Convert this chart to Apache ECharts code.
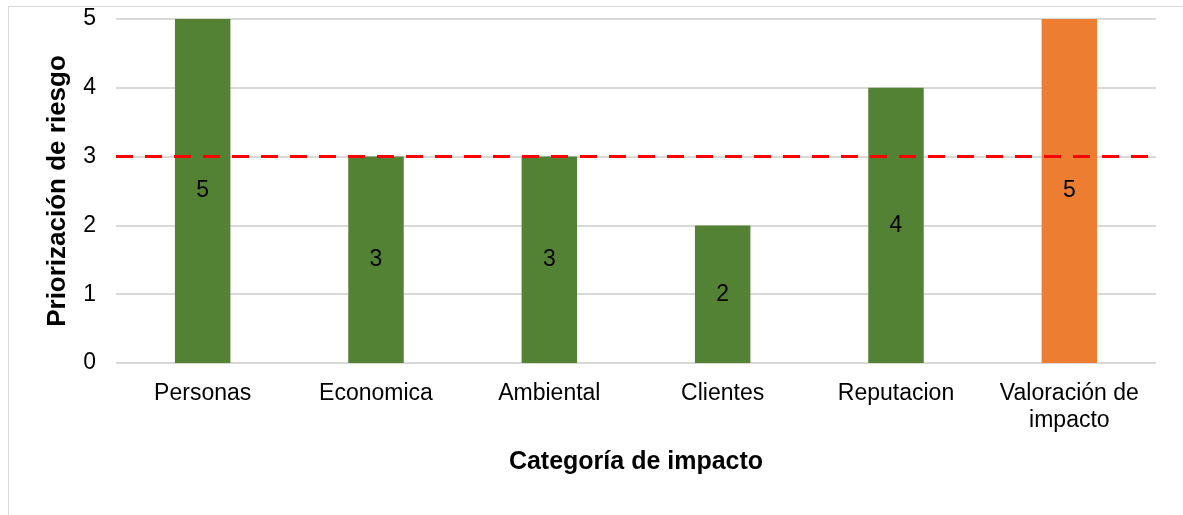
<!DOCTYPE html>
<html><head><meta charset="utf-8">
<script src="https://cdn.jsdelivr.net/npm/echarts@6/dist/echarts.min.js"></script>
<style>html,body{margin:0;padding:0;background:#fff}#c{width:1183px;height:515px}</style>
</head><body><div id="c"></div>
<script>
const categories = ['Personas', 'Economica', 'Ambiental', 'Clientes', 'Reputacion', 'Valoración de\nimpacto'];
const values = [5, 3, 3, 2, 4, 5];
const barColors = ['#548235', '#548235', '#548235', '#548235', '#548235', '#ED7D31'];
const threshold = 3;
const yTicks = [0, 1, 2, 3, 4, 5];

const chart = echarts.init(document.getElementById('c'));
const font = 'Liberation Sans, Arial, sans-serif';
chart.setOption({
  animation: false,
  graphic: [
    { type: 'line', shape: { x1: 8.5, y1: 6, x2: 8.5, y2: 515 }, style: { stroke: '#d9d9d9', lineWidth: 1 } },
    { type: 'line', shape: { x1: 8, y1: 6.5, x2: 1183, y2: 6.5 }, style: { stroke: '#d9d9d9', lineWidth: 1 } }
  ],
  grid: { left: 116, right: 27, top: 19, bottom: 152, containLabel: false },
  xAxis: {
    type: 'category', data: categories,
    axisLine: { show: true, lineStyle: { color: '#d9d9d9', width: 1 } },
    axisTick: { show: false },
    axisLabel: { color: '#000', fontFamily: font, fontSize: 23, margin: 17, lineHeight: 27, interval: 0 },
    name: 'Categoría de impacto', nameLocation: 'middle', nameGap: 87,
    nameTextStyle: { color: '#000', fontFamily: font, fontSize: 25, fontWeight: 'bold' }
  },
  yAxis: {
    type: 'value', min: yTicks[0], max: yTicks[yTicks.length - 1], interval: 1,
    axisLine: { show: false }, axisTick: { show: false },
    splitLine: { lineStyle: { color: '#d9d9d9', width: 2 } },
    axisLabel: { color: '#000', fontFamily: font, fontSize: 23, margin: 20 },
    name: 'Priorización de riesgo', nameLocation: 'middle', nameGap: 45, nameRotate: 90,
    nameTextStyle: { color: '#000', fontFamily: font, fontSize: 26, fontWeight: 'bold' }
  },
  series: [{
    type: 'bar', barWidth: '32%',
    data: values.map((v, i) => ({ value: v, itemStyle: { color: barColors[i] } })),
    label: { show: true, position: 'inside', color: '#000', fontFamily: font, fontSize: 23 },
    markLine: {
      silent: true, symbol: 'none',
      label: { show: false },
      lineStyle: { color: '#FF0000', width: 3, type: [17, 12] },
      data: [{ yAxis: threshold }]
    }
  }]
});
</script></body></html>
